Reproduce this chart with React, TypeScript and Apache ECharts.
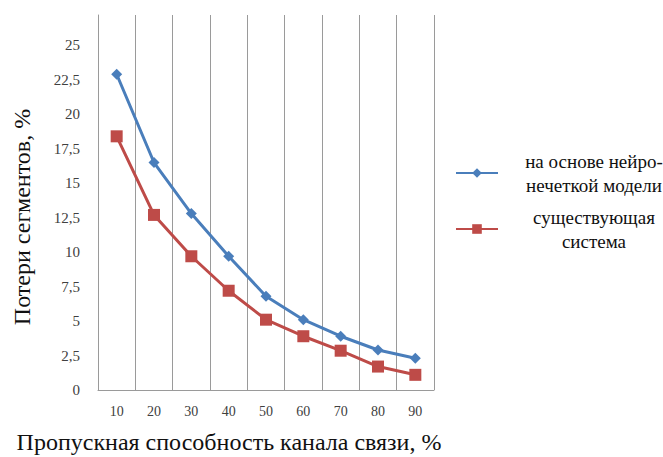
import React, { useEffect, useRef } from "react";
import * as echarts from "echarts";

const categories = ["10", "20", "30", "40", "50", "60", "70", "80", "90"];
const neuroFuzzy = [22.9, 16.5, 12.8, 9.7, 6.8, 5.1, 3.9, 2.9, 2.3];
const existing = [18.4, 12.7, 9.7, 7.2, 5.1, 3.9, 2.85, 1.7, 1.1];
const seriesNames = ["на основе нейро-нечеткой модели", "существующая система"];
const legendLines: Record<string, string[]> = {
  "на основе нейро-нечеткой модели": ["на основе нейро-", "нечеткой модели"],
  "существующая система": ["существующая", "система"],
};
const yTitle = "Потери сегментов, %";
const xTitle = "Пропускная способность канала связи, %";

export default function App() {
  const ref = useRef<HTMLDivElement>(null);
  useEffect(() => {
    if (!ref.current) return;
    const chart = echarts.init(ref.current, null, { renderer: "svg" });
    const serif = "Liberation Serif";
    chart.setOption({
      animation: false,
      backgroundColor: "#ffffff",
      grid: { left: 98, right: 229, top: 15, bottom: 67 },
      xAxis: {
        type: "category",
        data: categories,
        boundaryGap: true,
        axisLine: { lineStyle: { color: "#9a9a9a", width: 1 } },
        axisTick: { show: false },
        axisLabel: {
          margin: 14,
          fontFamily: "Liberation Sans Narrow",
          fontSize: 14,
          color: "#404040",
        },
        splitLine: { show: true, lineStyle: { color: "#9a9a9a", width: 1 } },
      },
      yAxis: {
        type: "value",
        min: 0,
        max: 27.2,
        interval: 2.5,
        axisLine: { show: true, lineStyle: { color: "#9a9a9a", width: 1 } },
        axisTick: { show: false },
        splitLine: { show: false },
        axisLabel: {
          margin: 18,
          fontFamily: serif,
          fontSize: 15,
          color: "#404040",
          formatter: (v: number) =>
            v <= 25 && Math.abs(v / 2.5 - Math.round(v / 2.5)) < 1e-6
              ? String(v).replace(".", ",")
              : "",
        },
      },
      legend: {
        orient: "vertical",
        left: 450,
        top: 144,
        itemWidth: 42,
        itemHeight: 12,
        itemGap: 8,
        data: seriesNames,
        formatter: (name: string) =>
          (legendLines[name] || [name]).map((l) => `{a|${l}}`).join("\n"),
        textStyle: {
          fontFamily: serif,
          fontSize: 19,
          color: "#111",
          lineHeight: 24,
          padding: [0, 0, 0, 18],
          rich: {
            a: {
              width: 146,
              align: "center",
              fontFamily: serif,
              fontSize: 19,
              lineHeight: 24,
              color: "#111",
            },
          },
        },
      },
      series: [
        {
          name: seriesNames[0],
          type: "line",
          data: neuroFuzzy,
          symbol: "diamond",
          symbolSize: 11,
          lineStyle: { color: "#4A7EBB", width: 3 },
          itemStyle: { color: "#4A7EBB" },
        },
        {
          name: seriesNames[1],
          type: "line",
          data: existing,
          symbol: "rect",
          symbolSize: 12,
          lineStyle: { color: "#BE4B48", width: 3 },
          itemStyle: { color: "#BE4B48" },
        },
      ],
      graphic: [
        {
          type: "text",
          x: 22,
          y: 217,
          rotation: Math.PI / 2,
          style: {
            text: yTitle,
            fontFamily: serif,
            fontSize: 24,
            fill: "#111",
            align: "center",
            verticalAlign: "middle",
          },
        },
        {
          type: "text",
          x: 229,
          y: 442,
          style: {
            text: xTitle,
            fontFamily: serif,
            fontSize: 24,
            fill: "#111",
            align: "center",
            verticalAlign: "middle",
          },
        },
      ],
    });
    return () => chart.dispose();
  }, []);
  return (
    <div
      ref={ref}
      style={{ position: "absolute", left: 0, top: 0, width: 663, height: 457 }}
    />
  );
}
